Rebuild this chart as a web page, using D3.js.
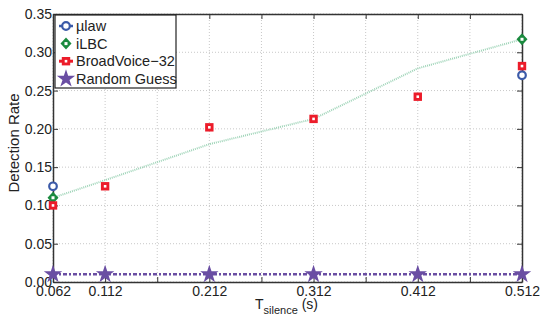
<!DOCTYPE html>
<html>
<head>
<meta charset="utf-8">
<script src="https://cdn.jsdelivr.net/npm/d3@7"></script>
<style>
  body { margin: 0; background: #fff; }
  text { font-family: "Liberation Sans", Arial, sans-serif; fill: #222; }
</style>
</head>
<body>
<svg width="540" height="315"></svg>
<script>
const xValues = [0.062, 0.112, 0.212, 0.312, 0.412, 0.512];
const xTickLabels = ["0.062", "0.112", "0.212", "0.312", "0.412", "0.512"];
const yTicks = [0, 0.05, 0.1, 0.15, 0.2, 0.25, 0.3, 0.35];

const ulawX = [0.062, 0.512];
const ulawY = [0.125, 0.270];
const ilbcX = [0.062, 0.512];
const ilbcY = [0.110, 0.317];
const bvY = [0.100, 0.125, 0.202, 0.213, 0.242, 0.282];
const randomY = [0.01, 0.01, 0.01, 0.01, 0.01, 0.01];
const trendY = [0.110, 0.133, 0.180, 0.213, 0.279, 0.317];

const svg = d3.select("svg");
const margin = { left: 53, right: 18, top: 14, bottom: 33 };
const W = 540, H = 315;

const x = d3.scaleLinear().domain([0.062, 0.512]).range([margin.left, W - margin.right]);
const y = d3.scaleLinear().domain([0, 0.35]).range([H - margin.bottom, margin.top]);

const gridX = d3.range(0, 10).map(i => 0.062 + i * 0.05);

// grid
svg.append("g").selectAll("line").data(gridX).enter().append("line")
    .attr("x1", d => x(d)).attr("x2", d => x(d))
    .attr("y1", y(0)).attr("y2", y(0.35))
    .attr("stroke", "#c8c8c8").attr("stroke-width", 1).attr("stroke-dasharray", "1,2");
svg.append("g").selectAll("line").data(yTicks).enter().append("line")
    .attr("x1", x(0.062)).attr("x2", x(0.512))
    .attr("y1", d => y(d)).attr("y2", d => y(d))
    .attr("stroke", "#c8c8c8").attr("stroke-width", 1).attr("stroke-dasharray", "1,2");

// axes
const axB = svg.append("g").attr("transform", `translate(0,${y(0)})`)
    .call(d3.axisBottom(x).tickValues(gridX).tickSizeInner(-5).tickSizeOuter(0)
        .tickFormat(d => {
            const i = xValues.findIndex(v => Math.abs(v - d) < 1e-6);
            return i >= 0 ? xTickLabels[i] : "";
        }));
const axT = svg.append("g").attr("transform", `translate(0,${y(0.35)})`)
    .call(d3.axisTop(x).tickValues(gridX).tickSizeInner(-5).tickSizeOuter(0).tickFormat(""));
const axL = svg.append("g").attr("transform", `translate(${x(0.062)},0)`)
    .call(d3.axisLeft(y).tickValues(yTicks).tickSizeInner(-5).tickSizeOuter(0).tickFormat(d3.format(".2f")));
const axR = svg.append("g").attr("transform", `translate(${x(0.512)},0)`)
    .call(d3.axisRight(y).tickValues(yTicks).tickSizeInner(-5).tickSizeOuter(0).tickFormat(""));

[axB, axT, axL, axR].forEach(a => {
    a.selectAll("path").attr("stroke", "#333").attr("stroke-width", 1.5);
    a.selectAll("line").attr("stroke", "#333");
    a.selectAll("text").style("font-size", "14px").attr("fill", "#222");
});
axB.selectAll("text").attr("dy", null).attr("y", 14);
axL.selectAll("text").attr("x", -1);

// trend line (light green dotted)
const line = d3.line().x(d => x(d[0])).y(d => y(d[1]));
svg.append("path").datum(xValues.map((v, i) => [v, trendY[i]]))
    .attr("d", line).attr("fill", "none")
    .attr("stroke", "#9fd4b8").attr("stroke-width", 2).attr("stroke-dasharray", "1,1");

// random guess line
svg.append("path").datum(xValues.map((v, i) => [v, randomY[i]]))
    .attr("d", line).attr("fill", "none")
    .attr("stroke", "#6a4ea3").attr("stroke-width", 2.5).attr("stroke-dasharray", "4,2,2,2");

const star = d3.symbol().type(d3.symbolStar).size(105);
svg.append("g").selectAll("path").data(xValues).enter().append("path")
    .attr("d", star)
    .attr("transform", (d, i) => `translate(${x(d)},${y(randomY[i])})`)
    .attr("fill", "#6a4ea3");

// markers
function circleMark(g, cx, cy) {
    g.append("circle").attr("cx", cx).attr("cy", cy).attr("r", 3.8)
        .attr("fill", "#fff").attr("stroke", "#3b5aa8").attr("stroke-width", 2.2);
}
function diamondMark(g, cx, cy) {
    g.append("path").attr("d", `M${cx},${cy - 6}L${cx + 5.5},${cy}L${cx},${cy + 6}L${cx - 5.5},${cy}Z`)
        .attr("fill", "#1a8a3e");
    g.append("rect").attr("x", cx - 1.5).attr("y", cy - 1.5).attr("width", 3).attr("height", 3).attr("fill", "#fff");
}
function squareMark(g, cx, cy) {
    g.append("rect").attr("x", cx - 4.2).attr("y", cy - 4.2).attr("width", 8.4).attr("height", 8.4)
        .attr("fill", "#ec1c2a");
    g.append("rect").attr("x", cx - 1.3).attr("y", cy - 1.3).attr("width", 2.6).attr("height", 2.6).attr("fill", "#fff");
}

const marks = svg.append("g");
ulawX.forEach((v, i) => circleMark(marks, x(v), y(ulawY[i])));
ilbcX.forEach((v, i) => diamondMark(marks, x(v), y(ilbcY[i])));
xValues.forEach((v, i) => squareMark(marks, x(v), y(bvY[i])));

// legend
const lg = svg.append("g").attr("transform", "translate(55,15)");
lg.append("rect").attr("x", 0).attr("y", 0).attr("width", 121).attr("height", 73)
    .attr("fill", "#fff").attr("stroke", "#222").attr("stroke-width", 1.2);
const legendNames = ["\u00b5law", "iLBC", "BroadVoice\u221232", "Random Guess"];
legendNames.forEach((name, i) => {
    const ly = 11 + i * 17.6;
    if (i === 0) {
        lg.append("line").attr("x1", 4).attr("x2", 18).attr("y1", ly).attr("y2", ly).attr("stroke", "#3b5aa8").attr("stroke-width", 2.5);
        circleMark(lg, 11, ly);
    } else if (i === 1) {
        diamondMark(lg, 11, ly);
    } else if (i === 2) {
        lg.append("line").attr("x1", 4).attr("x2", 18).attr("y1", ly).attr("y2", ly).attr("stroke", "#ec1c2a").attr("stroke-width", 3);
        squareMark(lg, 11, ly);
    } else {
        lg.append("path").attr("d", d3.symbol().type(d3.symbolStar).size(105)).attr("transform", `translate(11,${ly})`).attr("fill", "#6a4ea3");
    }
    lg.append("text").attr("x", 21).attr("y", ly).attr("dy", "0.36em")
        .style("font-size", "14.5px").text(name);
});

// axis titles
svg.append("text").attr("transform", `translate(19,143) rotate(-90)`)
    .attr("text-anchor", "middle").style("font-size", "15px").text("Detection Rate");
const xt = svg.append("text").attr("x", 255).attr("y", 309).attr("text-anchor", "start").style("font-size", "14px");
xt.append("tspan").text("T");
xt.append("tspan").attr("dy", 5).style("font-size", "11px").text("silence");
xt.append("tspan").attr("dy", -5).text(" (s)");
</script>
</body>
</html>
